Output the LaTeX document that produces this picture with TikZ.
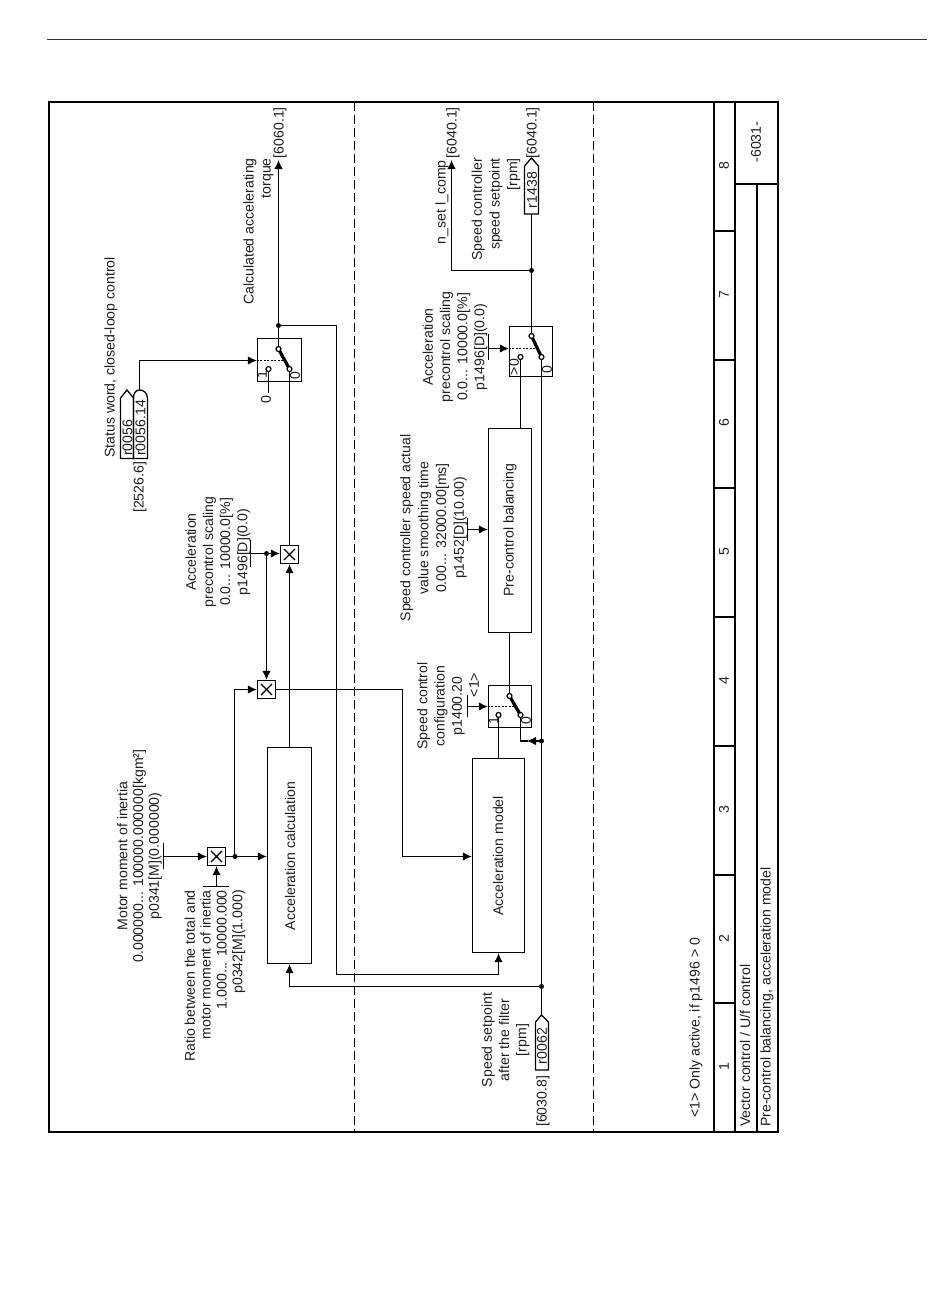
\documentclass[tikz,border=0pt]{standalone}
\usepackage{fontspec}
\setmainfont{Liberation Sans}
\usetikzlibrary{arrows.meta}
\newcommand{\fs}{\fontsize{14.1pt}{17.2pt}\selectfont}
\newcommand{\fsa}{\fontsize{14.1pt}{15.8pt}\selectfont}
\newcommand{\fsb}{\fontsize{14.1pt}{17.8pt}\selectfont}
\newcommand{\mulx}[1]{\draw[line width=1.2pt] ([shift={(-5.5pt,-5.5pt)}]#1.center) -- ([shift={(5.5pt,5.5pt)}]#1.center) ([shift={(-5.5pt,5.5pt)}]#1.center) -- ([shift={(5.5pt,-5.5pt)}]#1.center);}
\tikzset{
 lbl/.style={rotate=90,inner sep=0pt,align=center,font=\fs,text=black!88},
 lblr/.style={rotate=90,inner sep=0pt,align=right,font=\fs,text=black!88,anchor=east},
 lbll/.style={rotate=90,inner sep=0pt,align=left,font=\fs,text=black!88,anchor=west},
 bx/.style={draw,line width=1.3pt,inner sep=0pt,fill=white},
 mulbox/.style={draw,line width=1.3pt,inner sep=0pt,fill=white,minimum width=18pt,minimum height=18pt},
 conn/.style={line width=1.3pt},
 arr/.style={line width=1.3pt,-{Latex[length=9pt,width=8.5pt]}},
 frameline/.style={line width=2.2pt},
 dotn/.style={circle,fill=black,inner sep=0pt,minimum size=5pt},
 cont/.style={circle,draw,line width=1.2pt,fill=white,inner sep=0pt,minimum size=5pt},
 blade/.style={line width=3.2pt},
 sdash/.style={line width=1.1pt,dash pattern=on 2pt off 1.5pt},
 bar/.style={line width=1.3pt},
 ddash/.style={line width=1.4pt,dash pattern=on 8.5pt off 4.5pt}
}
\begin{document}
\begin{tikzpicture}[x=1pt,y=-1pt]
\useasboundingbox[fill=white] (0,0) rectangle (950,1301);
% header rule and frame
\coordinate (ha) at (47,39); \coordinate (hb) at (927,39);
\draw[line width=1pt,black!80] (ha) -- (hb);
\node[draw,frameline,minimum width=729pt,minimum height=1030pt,inner sep=0pt] (frame) at (413.5,617) {};
\draw[ddash] (354.5,102) -- (354.5,1132);
\draw[ddash] (593.5,102) -- (593.5,1132);
\draw[frameline] (714,102) -- (714,1132);
\draw[frameline] (735,102) -- (735,1132);
\draw[frameline] (757,184) -- (757,1132);
\draw[frameline] (735,184) -- (778,184);
\foreach \yy in {231,360,488,617,746,875,1003}{\draw[frameline] (714,\yy) -- (735,\yy);}
\foreach \yy/\tt in {166/8,295/7,423/6,552/5,681/4,810/3,939/2,1067/1}{\node[lbl] (n\tt) at (724,\yy) {\tt};}
\node[lbl] (tnum) at (756,142) {-6031-};
\node[lbll] (t1) at (745,1127) {Vector control / U/f control};
\node[lbll] (t2) at (767,1127) {Pre-control balancing, acceleration model};
\node[lbll] (note) at (696,1118) {<1> Only active, if p1496 > 0};

% boxes
\node[bx,minimum width=44pt,minimum height=216pt] (acalc) at (289.5,855.5) {};
\node[lbl] at (290,856) {Acceleration calculation};
\node[bx,minimum width=52pt,minimum height=194pt] (amodel) at (498.5,855.5) {};
\node[lbl] at (498,856) {Acceleration model};
\node[bx,minimum width=43pt,minimum height=204pt] (pcb) at (510,530.5) {};
\node[lbl] at (510,530) {Pre-control balancing};

% multipliers
\node[mulbox] (m1) at (289.5,554.5) {};
\node[mulbox] (m2) at (266.5,689.5) {};
\node[mulbox] (m3) at (216.5,856.5) {};

% switches
\node[bx,minimum width=44pt,minimum height=43pt] (s1) at (279.5,360) {};
\node[bx,minimum width=43pt,minimum height=42pt] (s2) at (510,706.5) {};
\node[bx,minimum width=43pt,minimum height=50pt] (s3) at (531,351.5) {};

% named points
\coordinate (s1a) at (278.5,349); \coordinate (s1b) at (289.5,369); \coordinate (s1c) at (268.5,369);
\coordinate (s2a) at (509.5,696); \coordinate (s2b) at (520.5,715); \coordinate (s2c) at (498.5,715);
\coordinate (s3a) at (531.5,336); \coordinate (s3b) at (541.5,357); \coordinate (s3c) at (520.5,357);
\coordinate (d1) at (278.5,325.5);
\coordinate (d2) at (266.5,553.5);
\coordinate (d3) at (235,856.5);
\coordinate (d4) at (541.5,741);
\coordinate (d5) at (541.5,986.5);
\coordinate (d6) at (531.5,270.5);

% signal connector shapes
\coordinate (t56) at (127,390); \coordinate (t5614) at (139.5,390);
\coordinate (t1438) at (531.5,158); \coordinate (t62) at (541.5,1015);
\draw[conn] (120.5,458.5) -- (120.5,398) -- (t56) -- (133.5,398) -- (133.5,458.5) -- cycle;
\draw[conn] (133.5,458.5) -- (133.5,398) .. controls (133.5,393) and (136,390) .. (t5614) .. controls (144,390) and (147,393) .. (147.5,398) -- (147.5,458.5) -- cycle;
\node[lbll] (r56) at (127.5,456) {r0056};
\node[lbll] (r5614) at (140.5,456) {r0056.14};
\draw[conn] (524.5,214) -- (524.5,166) -- (t1438) -- (538.5,166) -- (538.5,214) -- cycle;
\node[lbl] (r1438) at (532,190) {r1438};
\draw[conn] (535.5,1070) -- (535.5,1022) -- (t62) -- (548.5,1022) -- (548.5,1070) -- cycle;
\node[lbl] (r62) at (542,1046) {r0062};

% bars
\coordinate (b1) at (163,856.5);
\coordinate (b2) at (216.5,886);
\coordinate (b3) at (250,553.5);
\coordinate (b4) at (467,529.5);
\coordinate (b5) at (467,706.5);
\coordinate (b6) at (488,348.5);
\draw[bar] (163.5,843) -- (163.5,869);
\draw[bar] (203,886.5) -- (229,886.5);
\draw[bar] (250.5,540) -- (250.5,567);
\draw[bar] (467.5,518) -- (467.5,541);
\draw[bar] (467.5,695) -- (467.5,717);
\draw[bar] (488.5,334) -- (488.5,360);

% connectors
\draw[arr] (b1) -- (m3.west |- b1);
\draw[arr] (b2) -- (b2 |- m3.south);
\draw[conn] (m3.east |- d3) -- (d3);
\draw[arr] (d3) -- (acalc.west |- d3);
\draw[arr] (234.5,856.5) |- (m2.west |- 0,689.5);
\draw[arr] (b3) -- (m1.west |- b3);
\draw[arr] (d2) -- (d2 |- m2.north);
\draw[arr] (289.5,748) -- (m1.south);
\draw[conn] (m1.north) -- (s1b);
\draw[arr] (m2.east |- 0,689.5) -| (402.5,856.5) -- (amodel.west |- 0,856.5);
\draw[arr] (t5614) |- (s1.west |- 0,360.5);
\draw[sdash] (s1.west |- 0,360.5) -- (284,360.5);
\draw[conn] (s1c) -- (268.5,393);
\node[lbl] (zero) at (266,400) {0};
\draw[arr] (s1a) -- (278.5,160);
\draw[arr] (d1) -| (336.5,974.5) -| (amodel.south -| 498.5,0);
\draw[arr] (d5) -| (acalc.south -| 289.5,0);
\draw[conn] (t62) -- (s3b);
\draw[arr] (d4) -- (527,741);
\draw[conn] (528,741) -| (s2b);
\draw[conn] (amodel.north -| s2c) -- (s2c);
\draw[arr] (b5) -- (s2.west |- b5);
\draw[sdash] (s2.west |- b5) -- (514,706.5);
\draw[conn] (s2a) -- (pcb.south -| s2a);
\draw[arr] (b4) -- (pcb.west |- b4);
\draw[conn] (pcb.north -| s3c) -- (s3c);
\draw[arr] (b6) -- (s3.west |- b6);
\draw[sdash] (s3.west |- b6) -- (536,348.5);
\draw[conn] (s3a) -- (531.5,214);
\draw[arr] (d6) -| (451.5,160);

% switch blades and contacts
\draw[blade] (s1a) -- (s1b);
\draw[blade] (s2a) -- (s2b);
\draw[blade] (s3a) -- (s3b);
\foreach \p in {s1a,s1b,s1c,s2a,s2b,s2c,s3a,s3b,s3c}{\node[cont] at (\p) {};}
\foreach \p in {d1,d2,d3,d4,d5,d6}{\node[dotn] at (\p) {};}
\mulx{m1}\mulx{m2}\mulx{m3}

% switch labels
\node[lbl] (s1l1) at (262,375) {1};
\node[lbl] (s1l0) at (295,376) {0};
\node[lbl] (s2l1) at (493.5,721) {1};
\node[lbl] (s2l0) at (526,721) {0};
\node[lbl] (s3l1) at (514,367) {>0};
\node[lbl] (s3l0) at (547,370) {0};

% texts
\node[lblr] (x1) at (280,107) {[6060.1]};
\node[lblr] (x2) at (258.5,158) {Calculated accelerating\\torque};
\node[lbll] (x3) at (111,458) {Status word, closed-loop control};
\node[lbll] (x4) at (140,513) {[2526.6]};
\node[lbl] (x5) at (218,552) {Acceleration\\precontrol scaling\\0.0... 10000.0[\%]\\p1496[D](0.0)};
\node[lbl,font=\fsa] (x6) at (139.5,856) {Motor moment of inertia\\0.000000... 100000.000000[kgm²]\\p0341[M](0.000000)};
\node[lblr,font=\fsa] (x7) at (215,890) {Ratio between the total and\\motor moment of inertia\\1.000... 10000.000\\p0342[M](1.000)};
\node[lblr] (x8) at (442,160) {n\_set l\_comp};
\node[lblr] (x9) at (453,107) {[6040.1]};
\node[lblr] (x10) at (533,107) {[6040.1]};
\node[lblr,font=\fsb] (x11) at (496,158) {Speed controller\\speed setpoint\\{[rpm]}};
\node[lbl] (x12) at (455,347) {Acceleration\\precontrol scaling\\0.0... 10000.0[\%]\\p1496[D](0.0)};
\node[lbl,font=\fsb] (x13) at (433.5,528) {Speed controller speed actual\\value smoothing time\\0.00... 32000.00[ms]\\p1452[D](10.00)};
\node[lbl] (x14) at (441,706) {Speed control\\configuration\\p1400.20};
\node[lbl] (x15) at (474,685) {<1>};
\node[lbl] (x16) at (505.5,1040) {Speed setpoint\\after the filter\\{[rpm]}};
\node[lbll] (x17) at (543,1127) {[6030.8]};
\end{tikzpicture}
\end{document}
